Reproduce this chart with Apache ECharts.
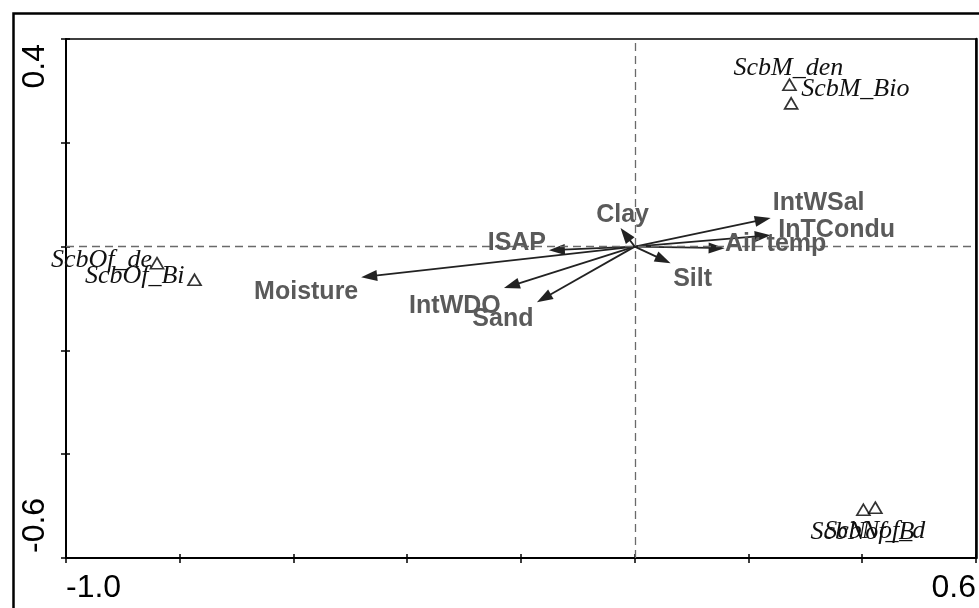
<!DOCTYPE html>
<html>
<head>
<meta charset="utf-8">
<script src="https://cdn.jsdelivr.net/npm/echarts@6/dist/echarts.min.js"></script>
<style>
html,body{margin:0;padding:0;background:#fff;}
#chart{width:979px;height:608px;}
</style>
</head>
<body>
<div id="chart"></div>
<script>
// ---- data ----
const varNames = ['Moisture', 'ISAP', 'Clay', 'Silt', 'Air temp', 'InTCondu', 'IntWSal', 'IntWDO', 'Sand'];
const varX = [-0.481, -0.151, -0.025, 0.063, 0.158, 0.239, 0.239, -0.230, -0.172];
const varY = [-0.059, -0.007, 0.036, -0.032, -0.003, 0.022, 0.055, -0.080, -0.107];

const speciesNames = ['ScbM_den', 'ScbM_Bio', 'ScbOf_de', 'ScbOf_Bi', 'ScbNof_B', 'ScbNof_d'];
const speciesX = [0.272, 0.275, -0.840, -0.774, 0.402, 0.423];
const speciesY = [0.312, 0.276, -0.032, -0.064, -0.507, -0.503];

const xTickLabels = ['-1.0', '0.6'];
const yTickLabels = ['0.4', '-0.6'];

// ---- label layout (pixel offsets, styling only) ----
const varLabelOffsets = [[-55, 15], [-32, -7], [2, -13], [22, 16], [51, -4], [66, -5], [48, -15], [-49, 18], [-34, 17]];
const speciesLabelLayout = [[-1, -17, 'center'], [10, -14, 'left'], [-5, -3, 'right'], [-10, -4, 'right'], [-53, 22, 'left'], [50, 24, 'right']];

const chart = echarts.init(document.getElementById('chart'), null, {renderer: 'canvas'});

const near = (a, b) => Math.abs(a - b) < 1e-6;

const varData = varNames.map((n, i) => [varX[i], varY[i], n]);
const spData = speciesNames.map((n, i) => [speciesX[i], speciesY[i], n]);

function arrowItem(params, api) {
  const o = api.coord([0, 0]);
  const p = api.coord([api.value(0), api.value(1)]);
  const dx = p[0] - o[0], dy = p[1] - o[1];
  const len = Math.hypot(dx, dy) || 1;
  const ux = dx / len, uy = dy / len;
  const L = 16, W = 5.5;
  const bx = p[0] - ux * L, by = p[1] - uy * L;
  const nx = -uy, ny = ux;
  return {
    type: 'group',
    children: [
      {type: 'line', shape: {x1: o[0], y1: o[1], x2: bx + ux * 2, y2: by + uy * 2}, style: {stroke: '#222', lineWidth: 1.8}},
      {type: 'polygon', shape: {points: [[p[0], p[1]], [bx + nx * W, by + ny * W], [bx - nx * W, by - ny * W]]}, style: {fill: '#222'}}
    ]
  };
}

function varLabelItem(params, api) {
  const i = params.dataIndex;
  const p = api.coord([api.value(0), api.value(1)]);
  const off = varLabelOffsets[i];
  return {
    type: 'text',
    style: {
      text: varNames[i], x: p[0] + off[0], y: p[1] + off[1],
      fill: '#5a5a5a', font: 'bold 25px "Liberation Sans", Arial, sans-serif',
      align: 'center', verticalAlign: 'middle'
    }
  };
}

function spLabelItem(params, api) {
  const i = params.dataIndex;
  const p = api.coord([api.value(0), api.value(1)]);
  const l = speciesLabelLayout[i];
  return {
    type: 'text',
    style: {
      text: speciesNames[i], x: p[0] + l[0], y: p[1] + l[1],
      fill: '#111', font: 'italic 26px "Liberation Serif", "Times New Roman", serif',
      align: l[2], verticalAlign: 'middle'
    }
  };
}

const option = {
  animation: false,
  backgroundColor: '#fff',
  grid: {left: 66, right: 2, top: 39, bottom: 50, show: true, borderColor: '#000', borderWidth: 1.5, backgroundColor: 'transparent'},
  xAxis: [{
    type: 'value', min: -1, max: 0.6, interval: 0.2,
    splitLine: {show: false},
    axisLine: {show: true, onZero: false, lineStyle: {color: '#000', width: 2}},
    axisTick: {show: true, inside: false, length: 5, lineStyle: {color: '#000', width: 1.5}},
    axisLabel: {
      show: true, margin: 14, color: '#000', fontSize: 32, fontFamily: '"Liberation Sans", Arial, sans-serif',
      alignMinLabel: 'left', alignMaxLabel: 'right',
      formatter: v => near(v, -1) ? xTickLabels[0] : (near(v, 0.6) ? xTickLabels[1] : '')
    }
  }, {
    type: 'value', min: -1, max: 0.6, interval: 0.2, position: 'bottom',
    splitLine: {show: false}, axisLine: {show: false, onZero: false},
    axisTick: {show: true, inside: true, length: 4, lineStyle: {color: '#000', width: 1.5}},
    axisLabel: {show: false}
  }],
  yAxis: [{
    type: 'value', min: -0.6, max: 0.4, interval: 0.2,
    splitLine: {show: false},
    axisLine: {show: true, onZero: false, lineStyle: {color: '#000', width: 2}},
    axisTick: {show: true, inside: false, length: 5, lineStyle: {color: '#000', width: 1.5}},
    axisLabel: {
      show: true, margin: 15, rotate: 90, color: '#000', fontSize: 32, fontFamily: '"Liberation Sans", Arial, sans-serif',
      alignMinLabel: 'left', alignMaxLabel: 'right', padding: [0, 5, 0, 5],
      formatter: v => near(v, 0.4) ? yTickLabels[0] : (near(v, -0.6) ? yTickLabels[1] : '')
    }
  }, {
    type: 'value', min: -0.6, max: 0.4, interval: 0.2, position: 'left',
    splitLine: {show: false}, axisLine: {show: false, onZero: false},
    axisTick: {show: true, inside: true, length: 4, lineStyle: {color: '#000', width: 1.5}},
    axisLabel: {show: false}
  }, {
    type: 'value', min: -0.6, max: 0.4, position: 'right',
    splitLine: {show: false},
    axisLine: {show: true, onZero: false, lineStyle: {color: '#000', width: 2.5}},
    axisTick: {show: false}, axisLabel: {show: false}
  }],
  graphic: [{
    type: 'rect', left: 11, top: 11, silent: true,
    shape: {x: 0, y: 0, width: 1000, height: 700},
    style: {fill: 'none', stroke: '#000', lineWidth: 2.5}
  }],
  series: [
    {
      type: 'scatter', name: 'refs', data: [], xAxisIndex: 0, yAxisIndex: 0, silent: true,
      markLine: {
        silent: true, symbol: ['none', 'none'], label: {show: false},
        lineStyle: {color: '#6a6a6a', width: 1.3, type: [8, 5]},
        data: [{xAxis: 0}, {yAxis: 0}]
      }
    },
    {type: 'custom', name: 'arrows', data: varData, renderItem: arrowItem, clip: false, silent: true, z: 3},
    {
      type: 'scatter', name: 'species', data: spData, symbol: 'triangle', symbolSize: [13, 11],
      itemStyle: {color: 'rgba(0,0,0,0)', borderColor: '#000', borderWidth: 1.7}, silent: true, z: 4
    },
    {type: 'custom', name: 'spLabels', data: spData, renderItem: spLabelItem, clip: false, silent: true, z: 5},
    {type: 'custom', name: 'varLabels', data: varData, renderItem: varLabelItem, clip: false, silent: true, z: 6}
  ]
};
chart.setOption(option);
</script>
</body>
</html>
